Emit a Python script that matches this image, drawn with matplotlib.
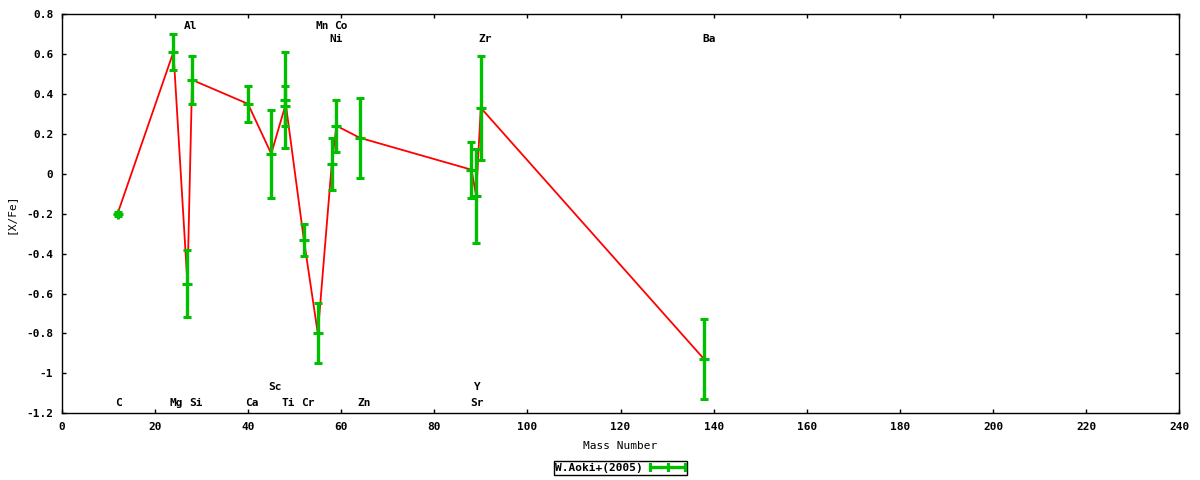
import numpy as np
import matplotlib
matplotlib.use('Agg')
import matplotlib.pyplot as plt
from matplotlib.legend_handler import HandlerBase
from matplotlib.lines import Line2D

# mass number, [X/Fe], error  (W.Aoki+ 2005)
mass = [12, 24, 27, 28, 40, 45, 48, 48, 52, 55, 58, 59, 64, 88, 89, 90, 138]
xfe = [-0.20, 0.61, -0.55, 0.47, 0.35, 0.10, 0.34, 0.37, -0.33, -0.80,
       0.05, 0.24, 0.18, 0.02, -0.11, 0.33, -0.93]
err = [0.01, 0.09, 0.17, 0.12, 0.09, 0.22, 0.10, 0.24, 0.08, 0.15,
       0.13, 0.13, 0.20, 0.14, 0.235, 0.26, 0.20]

# element labels (text, x, y)
lab_text = ['C', 'Mg', 'Si', 'Ca', 'Sc', 'Ti', 'Cr', 'Zn', 'Y', 'Sr',
            'Al', 'Mn', 'Co', 'Ni', 'Zr', 'Ba']
lab_x = [12.1, 24.7, 28.8, 40.8, 45.7, 48.7, 52.9, 64.9, 89.2, 89.2,
         27.7, 56.0, 59.9, 58.9, 91.0, 139.1]
lab_y = [-1.15, -1.15, -1.15, -1.15, -1.07, -1.15, -1.15, -1.15, -1.07, -1.15,
         0.74, 0.74, 0.74, 0.675, 0.675, 0.675]

green = '#00c000'


# gnuplot style legend sample: horizontal bar with end caps
class HBarHandler(HandlerBase):
    def create_artists(self, legend, orig_handle, xd, yd, width, height, fontsize, trans):
        y = height / 2 - yd
        x0, x1 = -xd, -xd + width
        h = height * 0.35
        arts = [Line2D([x0, x1], [y, y], color=green, lw=2.4),
                Line2D([x0, x0], [y - h, y + h], color=green, lw=2.2),
                Line2D([x1, x1], [y - h, y + h], color=green, lw=2.2),
                Line2D([(x0 + x1) / 2] * 2, [y - h, y + h], color=green, lw=2.2)]
        for a in arts:
            a.set_transform(trans)
        return arts


plt.rcParams['font.family'] = ['DejaVu Sans Mono']
plt.rcParams['font.weight'] = 'bold'
plt.rcParams['font.size'] = 8

fig = plt.figure(figsize=(12, 4.8), dpi=100)
ax = fig.add_axes([61.7/1200, 1-413.3/480, (1179.3-61.7)/1200, (413.3-14)/480])

ax.plot(mass, xfe, color='#ff0000', linewidth=1.3, zorder=2)
eb = ax.errorbar(mass, xfe, yerr=err, fmt='+', color=green, markersize=6.5, markeredgewidth=2.2,
                 elinewidth=2.4, capsize=3.2, capthick=2.2, zorder=3)

for t, x, y in zip(lab_text, lab_x, lab_y):
    ax.text(x, y, t, ha='center', va='center', fontsize=8, fontweight='bold')

ax.set_xlim(0, 240)
ax.set_ylim(-1.2, 0.8)
ax.set_xticks(np.arange(0, 241, 20))
ax.set_yticks(np.arange(-1.2, 0.81, 0.2))
ax.set_yticklabels(['-1.2', '-1', '-0.8', '-0.6', '-0.4', '-0.2', '0', '0.2', '0.4', '0.6', '0.8'])
ax.tick_params(direction='in', length=3, width=1, top=True, right=True, pad=6)
ax.set_xlabel('Mass Number', labelpad=7)
ax.set_ylabel('[X/Fe]', labelpad=8)
for s in ax.spines.values():
    s.set_linewidth(1)

leg = fig.legend([eb], ['W.Aoki+(2005)'], loc='center', bbox_to_anchor=(0.517, 0.025),
                 markerfirst=False, handler_map={type(eb): HBarHandler()},
                 fancybox=False, edgecolor='black', framealpha=1, borderpad=0.15,
                 handlelength=3.2, borderaxespad=0, handletextpad=0.6)
leg.get_frame().set_linewidth(1)

fig.savefig('out.png', dpi=100)
